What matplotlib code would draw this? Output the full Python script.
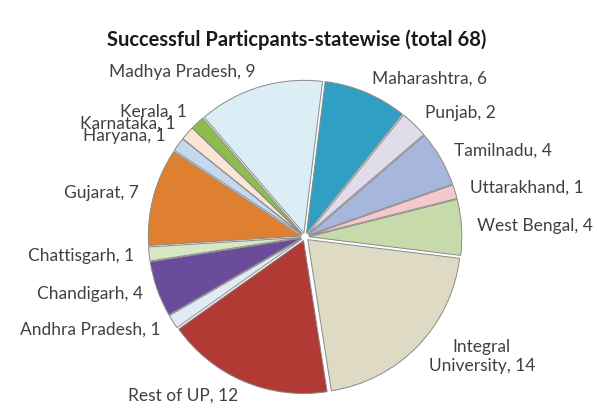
import matplotlib.pyplot as plt

# -----------------------------------------------------
# DONNÉES
# -----------------------------------------------------
etats = ["Maharashtra", "Punjab", "Tamilnadu", "Uttarakhand", "West Bengal",
         "Integral\nUniversity", "Rest of UP", "Andhra Pradesh", "Chandigarh",
         "Chattisgarh", "Gujarat", "Haryana", "Karnataka", "Kerala",
         "Madhya Pradesh"]
participants = [6, 2, 4, 1, 4, 14, 12, 1, 4, 1, 7, 1, 1, 1, 9]
couleurs = ["#2f9fc3", "#e1dcea", "#a7b7dc", "#f3c9cc", "#c6dba9",
            "#dedac4", "#b13a35", "#e2ebf4", "#6b4c9b", "#d5e7c3",
            "#df8030", "#c5d8ee", "#fbe6d5", "#8fbc4f", "#dceef5"]

labels = [f"{e}, {v}" for e, v in zip(etats, participants)]

plt.rcParams["font.family"] = ["Lato", "DejaVu Sans"]

fig = plt.figure(figsize=(5.97, 4.11), dpi=100)
# centre du camembert ~ (305, 236) px, rayon ~ 153 px
r_px = 153
lim = 1.4
w = 2 * lim * r_px
ax = fig.add_axes([(305 - w / 2) / 597, (411 - 237 - w / 2) / 411, w / 597, w / 411])

wedges, textes = ax.pie(
    participants,
    labels=labels,
    colors=couleurs,
    startangle=83,
    counterclock=False,
    explode=[0.025] * len(participants),
    labeldistance=1.1,
    wedgeprops=dict(edgecolor="#8a8a8a", linewidth=0.7),
    textprops=dict(color="#404040", fontsize=12.5),
)
for t in textes:
    t.set_multialignment("center")

ax.set_xlim(-lim, lim)
ax.set_ylim(-lim, lim)
ax.set_aspect("equal")
ax.axis("off")

fig.text(297 / 597, 1 - 40 / 411, "Successful Particpants-statewise (total 68)",
         ha="center", va="center", fontsize=14.5, fontweight="bold", color="#1a1a1a")

fig.savefig("out.png", dpi=100)
